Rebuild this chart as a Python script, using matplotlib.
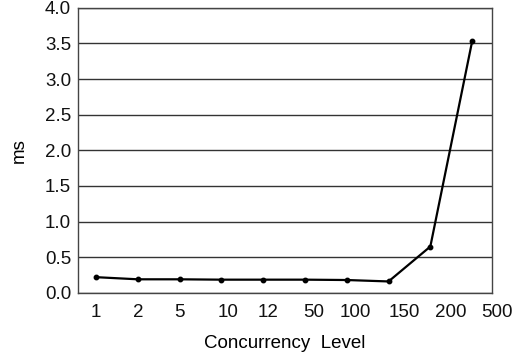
import matplotlib
matplotlib.use("Agg")
import matplotlib.pyplot as plt
import matplotlib.transforms as mtransforms

# Data
levels = ["1", "2", "5", "10", "12", "50", "100", "150", "200", "500"]
latency_ms = [0.22, 0.19, 0.19, 0.185, 0.185, 0.185, 0.18, 0.16, 0.65, 3.53]

# label drift in the scanned original (pixels to the right of each point)
label_shift_px = [0, 0, 0, 7, 5, 9, 9, 16, 20, 25]

plt.rcParams['font.family'] = ['Liberation Sans', 'DejaVu Sans']

fig = plt.figure(figsize=(5.17, 3.58), dpi=100)
ax = fig.add_axes([0.151, 0.182, 0.801, 0.796])

x = range(len(levels))
ax.plot(x, latency_ms, color="black", linewidth=1.6, marker="o", markersize=3.2)

ax.set_xlim(-0.43, len(levels) - 1 + 0.48)
ax.set_ylim(0, 4.0)
ax.set_yticks([i * 0.5 for i in range(9)])
ax.set_yticklabels(["%.1f" % (i * 0.5) for i in range(9)])
ax.set_xticks(list(x))
ax.set_xticklabels(levels)
ax.yaxis.grid(True, color="#333333", linewidth=1.0)
ax.set_axisbelow(True)
ax.tick_params(length=0, labelsize=13.5, colors="#111111")
ax.tick_params(axis="x", pad=8)
ax.tick_params(axis="y", pad=5)
for lab, dx in zip(ax.get_xticklabels(), label_shift_px):
    lab.set_transform(lab.get_transform() + mtransforms.ScaledTranslation(dx / 100, 0, fig.dpi_scale_trans))
for s in ax.spines.values():
    s.set_color("#444444")
    s.set_linewidth(1.0)

ax.set_xlabel("Concurrency  Level", fontsize=13.5, labelpad=10)
ax.set_ylabel("ms", fontsize=13.5, labelpad=12)

fig.savefig("out.png", dpi=100)
